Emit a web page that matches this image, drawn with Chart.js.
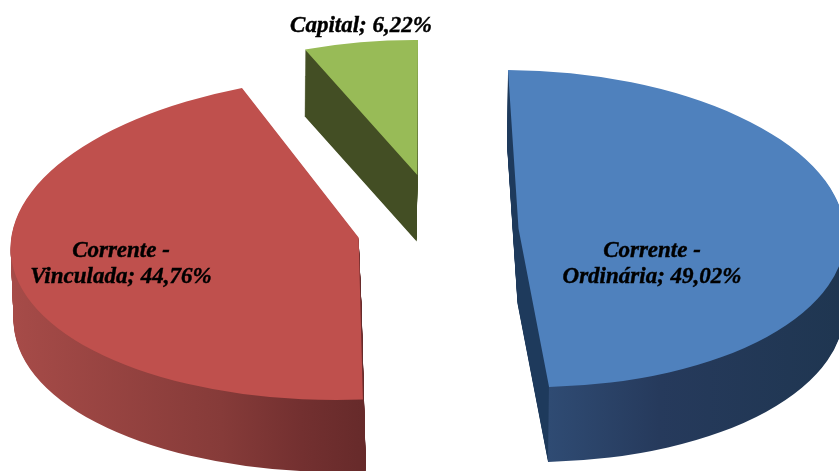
<!DOCTYPE html>
<html><head><meta charset="utf-8">
<style>html,body{margin:0;padding:0;background:#fff}canvas{display:block}</style>
<script src="https://cdn.jsdelivr.net/npm/chart.js@4/dist/chart.umd.js"></script>
</head><body><canvas id="c" width="839" height="471"></canvas>
<script>
const categories = ['Corrente - Ordinária', 'Corrente - Vinculada', 'Capital'];
const shares = [49.02, 44.76, 6.22];
const topColors = ['#4f81bd', '#bf504d', '#98bb57'];
// 3D view of each exploded slice: unit-circle axes (a,c),(b,d), centre (e,f), extrusion (dx,dy)
const sliceViews = [
  {a:326.5,b:10.5,c:2,d:158.6,e:518.5,f:228.6,dx:-1,dy:75},
  {a:347.6,b:-17.1,c:-2.6,d:162.6,e:358.6,f:237.4,dx:3,dy:72},
  {a:296.5,b:-0.7,c:1.6,d:135,e:417.3,f:175,dx:-0.6,dy:66.5}
];
const wallStops = [
  [[508,'#1e3a5c'],[548.5,'#1e3a5c'],[549.5,'#2f4b73'],[660,'#263a5c'],[839,'#1f3651']],
  [[12,'#a64b48'],[220,'#863b39'],[300,'#733030'],[366,'#662a2a']],
  [[305,'#434e24'],[418,'#434e24']]
];
const labelSpots = [[652,257],[121,257],[361,32]];
const lineGap = 25.5;
const labelFont = 'italic bold 23px "Liberation Serif"';

function labelLines(i){
  const v = shares[i].toFixed(2).replace('.',',') + '%';
  const parts = categories[i].split(' - ');
  return parts.length>1 ? [parts[0]+' -', parts[1]+'; '+v] : [parts[0]+'; '+v];
}
const view3d = {
  id:'view3d',
  beforeDatasetsDraw(chart){
    const ctx = chart.ctx;
    chart.getDatasetMeta(0).data.forEach((el,i)=>{
      const v = sliceViews[i], R = el.outerRadius;
      const na = v.a/R, nb = v.b/R, nn = na*na+nb*nb;
      const s0 = (wallStops[i][0][0]-v.e)/nn, s1 = (wallStops[i][wallStops[i].length-1][0]-v.e)/nn;
      const g = ctx.createLinearGradient(el.x+s0*na, el.y+s0*nb, el.x+s1*na, el.y+s1*nb);
      const X0 = wallStops[i][0][0], X1 = wallStops[i][wallStops[i].length-1][0];
      wallStops[i].forEach(([x,col])=>g.addColorStop((x-X0)/(X1-X0),col));
      const wall = Object.create(el);
      wall.options = Object.create(el.options);
      Object.defineProperty(wall.options,'backgroundColor',{value:g});
      const put = (t)=>{
        ctx.setTransform(na, v.c/R, nb, v.d/R, v.e+v.dx*t, v.f+v.dy*t);
        ctx.translate(-el.x,-el.y);
      };
      ctx.save();
      const steps = Math.ceil(v.dy);
      for(let k=steps;k>=1;k--){ put(k/steps); wall.draw(ctx); }
      put(0); el.draw(ctx);
      ctx.restore();
    });
    ctx.setTransform(1,0,0,1,0,0);
    return false;
  },
  afterDraw(chart){
    const ctx = chart.ctx;
    ctx.save();
    ctx.font = labelFont; ctx.fillStyle = '#000'; ctx.strokeStyle = '#000'; ctx.lineWidth = 0.4;
    ctx.textAlign='center'; ctx.textBaseline='alphabetic';
    categories.forEach((_,i)=>{
      labelLines(i).forEach((t,k)=>{
        const x = labelSpots[i][0], y = labelSpots[i][1]+k*lineGap;
        ctx.fillText(t,x,y); ctx.strokeText(t,x,y);
      });
    });
    ctx.restore();
  }
};
new Chart(document.getElementById('c'),{
  type:'pie',
  data:{labels:categories,datasets:[{data:shares,backgroundColor:topColors,borderWidth:0}]},
  options:{responsive:false,animation:false,events:[],
    plugins:{legend:{display:false},tooltip:{enabled:false}}},
  plugins:[view3d]
});
</script></body></html>
